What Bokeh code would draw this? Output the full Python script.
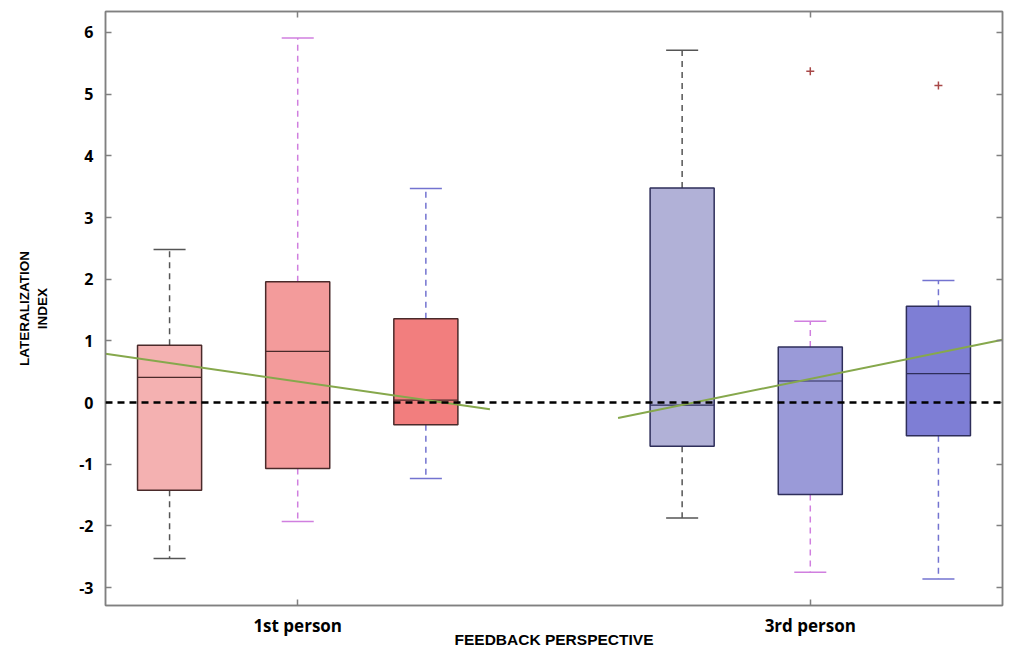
from bokeh.plotting import figure
from bokeh.models import ColumnDataSource, Range1d, FixedTicker, LinearAxis, Span
from bokeh.embed import file_html
from bokeh.resources import INLINE

# ---- data ----
groups = ["1st person", "3rd person"]
n_cond = 3
whisk_hi = [2.48, 5.91, 3.47, 5.71, 1.32, 1.98]
q3       = [0.93, 1.96, 1.36, 3.48, 0.90, 1.56]
median   = [0.41, 0.83, 0.04, -0.04, 0.35, 0.47]
q1       = [-1.42, -1.07, -0.36, -0.71, -1.49, -0.54]
whisk_lo = [-2.53, -1.93, -1.23, -1.87, -2.75, -2.86]
fill_colors = ["#F4B1B1", "#F39B9B", "#F27E7E", "#B1B1D7", "#9A9AD8", "#7E7ED5"]
edge_colors = ["#4A2A2A", "#4A2A2A", "#4A2A2A", "#2E2E5A", "#2E2E5A", "#2E2E5A"]
whisk_colors = ["#555555", "#D07FDF", "#7373D0", "#555555", "#D07FDF", "#7373D0"]
outlier_box = [4, 5]
outlier_val = [5.37, 5.14]
trend_y_start = [0.79, -0.25]
trend_y_end = [-0.11, 1.02]
y_ticks = [-3, -2, -1, 0, 1, 2, 3, 4, 5, 6]

# ---- layout helpers ----
xs = [g * (n_cond + 1) + c + 1 for g in range(len(groups)) for c in range(n_cond)]
group_centers = [g * (n_cond + 1) + (n_cond + 1) / 2 for g in range(len(groups))]
box_w = 0.5
cap_w = 0.25

p = figure(width=1005, height=650, output_backend="svg", toolbar_location=None,
           x_range=Range1d(0.5, len(groups) * (n_cond + 1) - 0.5),
           y_range=Range1d(-3.29, 6.34),
           min_border_left=105, min_border_right=3, min_border_top=11, min_border_bottom=40)
p.background_fill_color = "white"
p.border_fill_color = "white"
p.xgrid.visible = False
p.ygrid.visible = False
p.outline_line_color = "#808080"
p.outline_line_width = 1.5

axis_font = "Open Sans"
for ax in [p.xaxis[0], p.yaxis[0]]:
    ax.axis_line_color = "#808080"
    ax.axis_line_width = 1.5
    ax.major_tick_line_color = "#808080"
    ax.major_tick_line_width = 1.5
    ax.major_tick_in = 6
    ax.major_tick_out = 0
    ax.minor_tick_line_color = None
    ax.major_label_text_font = axis_font
    ax.major_label_text_font_style = "bold"
    ax.major_label_text_font_size = "16px"
    ax.major_label_text_color = "black"
    ax.axis_label_text_font = "Liberation Sans"
    ax.axis_label_text_font_style = "bold"
    ax.axis_label_text_color = "black"

p.xaxis.ticker = FixedTicker(ticks=group_centers)
p.xaxis.major_label_overrides = {gc: g for gc, g in zip(group_centers, groups)}
p.xaxis.major_label_text_font_size = "17px"
p.xaxis.major_label_standoff = 8
p.xaxis.axis_label = "FEEDBACK PERSPECTIVE"
p.xaxis.axis_label_text_font_size = "15.5px"
p.xaxis.axis_label_standoff = -9

p.yaxis.ticker = FixedTicker(ticks=y_ticks)
p.yaxis.major_label_overrides = {t: str(t) for t in y_ticks}
p.yaxis.major_label_standoff = 12
p.yaxis.axis_label = "LATERALIZATION\nINDEX"
p.yaxis.axis_label_text_font_size = "13.5px"
p.yaxis.axis_label_standoff = 26

# mirrored axes (ticks inside, no labels)
right = LinearAxis(ticker=FixedTicker(ticks=y_ticks))
top = LinearAxis(ticker=FixedTicker(ticks=group_centers))
right.major_label_overrides = {t: "" for t in y_ticks}
top.major_label_overrides = {gc: "" for gc in group_centers}
for ax in [right, top]:
    ax.axis_line_color = "#808080"
    ax.axis_line_width = 1.5
    ax.major_tick_line_color = "#808080"
    ax.major_tick_line_width = 1.5
    ax.major_tick_in = 6
    ax.major_tick_out = 0
    ax.minor_tick_line_color = None
    ax.major_label_standoff = 0
p.add_layout(right, "right")
p.add_layout(top, "above")

src = ColumnDataSource(dict(
    x=xs, hi=whisk_hi, q3=q3, med=median, q1=q1, lo=whisk_lo,
    fill=fill_colors, edge=edge_colors, wc=whisk_colors,
    x0=[x - box_w / 2 for x in xs], x1=[x + box_w / 2 for x in xs],
    c0=[x - cap_w / 2 for x in xs], c1=[x + cap_w / 2 for x in xs],
))

# whiskers (dashed)
p.segment(x0="x", y0="q3", x1="x", y1="hi", source=src, line_color="wc",
          line_width=1.5, line_dash="6 5")
p.segment(x0="x", y0="q1", x1="x", y1="lo", source=src, line_color="wc",
          line_width=1.5, line_dash="6 5")
# caps
p.segment(x0="c0", y0="hi", x1="c1", y1="hi", source=src, line_color="wc", line_width=1.5)
p.segment(x0="c0", y0="lo", x1="c1", y1="lo", source=src, line_color="wc", line_width=1.5)
# boxes
p.vbar(x="x", width=box_w, top="q3", bottom="q1", source=src, fill_color="fill",
       line_color="edge", line_width=1.5)
# medians
p.segment(x0="x0", y0="med", x1="x1", y1="med", source=src, line_color="edge", line_width=1.2)

# zero line
p.add_layout(Span(location=0, dimension="width", line_color="black",
                  line_width=2.5, line_dash="7 5"))

# trend lines per group
for g in range(len(groups)):
    gx0 = g * (n_cond + 1) + 0.5
    gx1 = g * (n_cond + 1) + n_cond + 0.5
    p.line([gx0, gx1], [trend_y_start[g], trend_y_end[g]], line_color="#86A84C", line_width=2)

# outliers
p.scatter([xs[i] for i in outlier_box], outlier_val, marker="cross", size=8,
          line_color="#A84848", line_width=1.5)

open("out.html", "w").write(file_html(p, INLINE))
